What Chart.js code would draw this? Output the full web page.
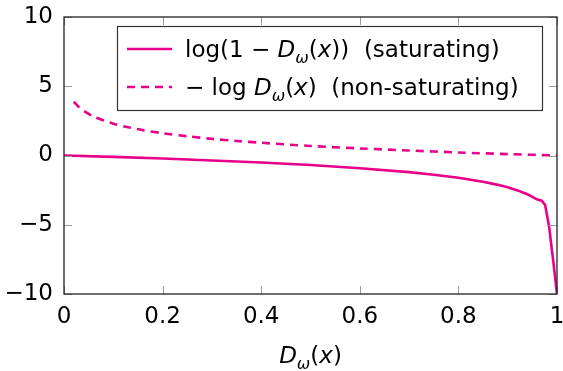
<!DOCTYPE html>
<html>
<head>
<meta charset="utf-8">
<script src="https://cdn.jsdelivr.net/npm/chart.js@4/dist/chart.umd.min.js"></script>
<style>
  html, body { margin: 0; padding: 0; background: #fff; }
  #wrap { width: 563px; height: 371px; }
</style>
</head>
<body>
<div id="wrap"><canvas id="grafico" width="563" height="371"></canvas></div>
<script>
// valores
var xSat = [0, 0.1, 0.2, 0.3, 0.4, 0.5, 0.6, 0.7, 0.75, 0.8, 0.85, 0.88, 0.9, 0.92, 0.94, 0.95, 0.959, 0.969, 0.976, 0.984, 0.993, 1];
var ySat = [0, -0.1, -0.22, -0.36, -0.51, -0.69, -0.92, -1.2, -1.39, -1.61, -1.9, -2.12, -2.3, -2.52, -2.8, -2.98, -3.16, -3.26, -3.57, -5.14, -7.8, -10];

var xNon = [0.02, 0.03, 0.04, 0.06, 0.08, 0.1, 0.13, 0.16, 0.2, 0.25, 0.3, 0.35, 0.4, 0.5, 0.6, 0.7, 0.8, 0.9, 1];
var yNon = [3.88, 3.5, 3.22, 2.81, 2.53, 2.3, 2.04, 1.83, 1.61, 1.39, 1.2, 1.05, 0.92, 0.69, 0.51, 0.36, 0.22, 0.1, 0];

var xTicks = [0, 0.2, 0.4, 0.6, 0.8, 1];
var yTicks = [-10, -5, 0, 5, 10];

// legenda e titulo: pedaços de texto (t = texto, it = italico, sub = subscrito)
var legendaSat = [{t: 'log(1 \u2212 '}, {t: 'D', it: true}, {t: '\u03c9', it: true, sub: true}, {t: '('}, {t: 'x', it: true}, {t: '))  (saturating)'}];
var legendaNon = [{t: '\u2212 log '}, {t: 'D', it: true}, {t: '\u03c9', it: true, sub: true}, {t: '('}, {t: 'x', it: true}, {t: ')  (non-saturating)'}];
var tituloX = [{t: 'D', it: true}, {t: '\u03c9', it: true, sub: true}, {t: '('}, {t: 'x', it: true}, {t: ')'}];

var cor = 'rgb(233, 0, 138)';
var fonte = '"DejaVu Sans", sans-serif';

function pares(xs, ys) {
    return xs.map(function (x, i) { return {x: x, y: ys[i]}; });
}

function escreverPedacos(ctx, pedacos, x, y, tam) {
    ctx.textBaseline = 'alphabetic';
    ctx.textAlign = 'left';
    pedacos.forEach(function (p) {
        var t = p.sub ? tam * 0.7 : tam;
        ctx.font = (p.it ? 'italic ' : '') + t + 'px ' + fonte;
        var dy = p.sub ? tam * 0.25 : 0;
        ctx.fillText(p.t, x, y + dy);
        x += ctx.measureText(p.t).width;
    });
    return x;
}

function larguraPedacos(ctx, pedacos, tam) {
    var w = 0;
    pedacos.forEach(function (p) {
        var t = p.sub ? tam * 0.7 : tam;
        ctx.font = (p.it ? 'italic ' : '') + t + 'px ' + fonte;
        w += ctx.measureText(p.t).width;
    });
    return w;
}

var molduraPlugin = {
    id: 'moldura',
    afterDatasetsDraw: function (chart) {
        var ctx = chart.ctx;
        var a = chart.chartArea;
        var sx = chart.scales.x, sy = chart.scales.y;
        ctx.save();
        // ticks para dentro, nos quatro lados
        ctx.strokeStyle = '#9a9a9a';
        ctx.lineWidth = 1;
        var tl = 8;
        xTicks.forEach(function (v) {
            var px = Math.round(sx.getPixelForValue(v)) + 0.5;
            ctx.beginPath();
            ctx.moveTo(px, a.bottom); ctx.lineTo(px, a.bottom - tl);
            ctx.moveTo(px, a.top); ctx.lineTo(px, a.top + tl);
            ctx.stroke();
        });
        yTicks.forEach(function (v) {
            var py = Math.round(sy.getPixelForValue(v)) + 0.5;
            ctx.beginPath();
            ctx.moveTo(a.left, py); ctx.lineTo(a.left + tl, py);
            ctx.moveTo(a.right, py); ctx.lineTo(a.right - tl, py);
            ctx.stroke();
        });
        // caixa
        ctx.strokeStyle = '#222';
        ctx.lineWidth = 1.3;
        ctx.strokeRect(a.left, a.top, a.right - a.left, a.bottom - a.top);

        // legenda
        var bx = 117, by = 26, bw = 425, bh = 84;
        ctx.fillStyle = '#fff';
        ctx.fillRect(bx, by, bw, bh);
        ctx.strokeStyle = '#333';
        ctx.lineWidth = 1.2;
        ctx.strokeRect(bx + 0.5, by + 0.5, bw, bh);

        ctx.strokeStyle = cor;
        ctx.lineWidth = 2.6;
        ctx.beginPath();
        ctx.moveTo(127, 49); ctx.lineTo(172, 49);
        ctx.stroke();
        ctx.setLineDash([8, 6]);
        ctx.beginPath();
        ctx.moveTo(127, 87); ctx.lineTo(172, 87);
        ctx.stroke();
        ctx.setLineDash([]);

        ctx.fillStyle = '#000';
        escreverPedacos(ctx, legendaSat, 185, 57, 23);
        escreverPedacos(ctx, legendaNon, 185, 95, 23);

        // titulo do eixo x
        var w = larguraPedacos(ctx, tituloX, 23);
        var cx = (a.left + a.right) / 2;
        escreverPedacos(ctx, tituloX, cx - w / 2, 363, 23);
        ctx.restore();
    }
};

var ctx = document.getElementById('grafico').getContext('2d');
var grafico = new Chart(ctx, {
    type: 'line',
    data: {
        datasets: [
            {
                label: 'saturating',
                data: pares(xSat, ySat),
                borderColor: cor,
                borderWidth: 2.6,
                pointRadius: 0,
                tension: 0,
                fill: false
            },
            {
                label: 'non-saturating',
                data: pares(xNon, yNon),
                borderColor: cor,
                borderWidth: 2.6,
                borderDash: [8, 6],
                pointRadius: 0,
                tension: 0.3,
                fill: false
            }
        ]
    },
    plugins: [molduraPlugin],
    options: {
        responsive: false,
        animation: false,
        layout: { padding: { top: 17, right: 6, left: 0, bottom: 0 } },
        plugins: {
            legend: { display: false },
            tooltip: { enabled: false }
        },
        scales: {
            x: {
                type: 'linear',
                min: 0,
                max: 1,
                afterBuildTicks: function (scale) {
                    scale.ticks = xTicks.map(function (v) { return {value: v}; });
                },
                afterFit: function (scale) {
                    scale.height = 77;
                    scale.paddingLeft = 0; scale.paddingRight = 0;
                },
                grid: { display: false, drawTicks: false },
                border: { display: false },
                ticks: {
                    padding: 9,
                    color: '#000',
                    font: { family: fonte, size: 23 },
                    maxRotation: 0,
                    autoSkip: false,
                    callback: function (v) { return String(v); }
                }
            },
            y: {
                min: -10,
                max: 10,
                afterBuildTicks: function (scale) {
                    scale.ticks = yTicks.map(function (v) { return {value: v}; });
                },
                afterFit: function (scale) {
                    scale.width = 64;
                    scale.paddingTop = 0; scale.paddingBottom = 0;
                },
                grid: { display: false, drawTicks: false },
                border: { display: false },
                ticks: {
                    padding: 11,
                    color: '#000',
                    font: { family: fonte, size: 23 },
                    callback: function (v) { return String(v).replace('-', '\u2212'); }
                }
            }
        }
    }
});
</script>
</body>
</html>
